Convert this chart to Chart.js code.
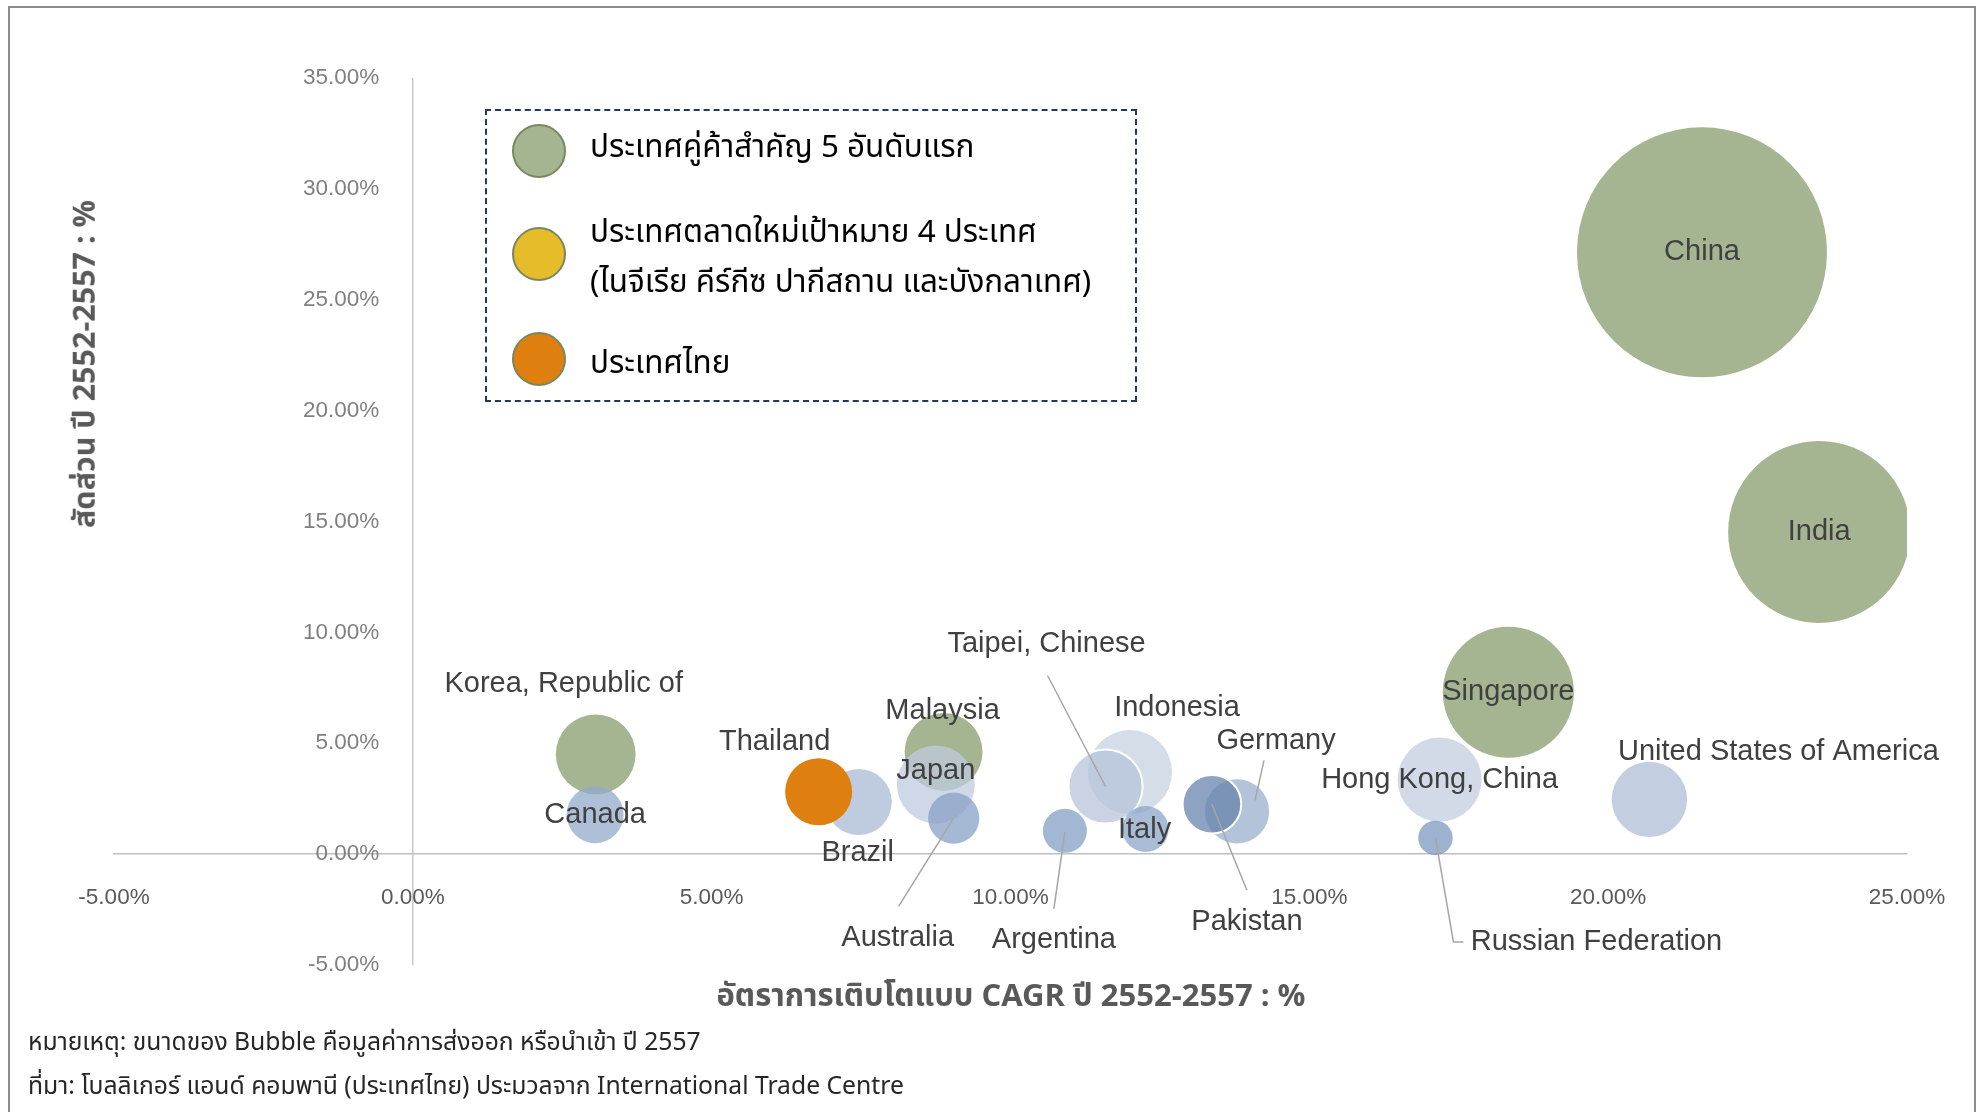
<!DOCTYPE html>
<html lang="th">
<head>
<meta charset="utf-8">
<title>Bubble chart</title>
<script src="https://cdn.jsdelivr.net/npm/chart.js@4.4.1/dist/chart.umd.min.js"></script>
<style>
  html, body { margin: 0; padding: 0; background: #fff; }
  #wrap {
    position: relative; width: 1980px; height: 1112px; overflow: hidden;
    font-family: "Noto Sans Thai", "Noto Sans Thai Looped", "Loma", "Garuda", "Liberation Sans", Arial, sans-serif;
  }
  #frame { position: absolute; left: 8px; top: 6px; width: 1968px; height: 1130px; border: 2px solid #8c8c8c; box-sizing: border-box; }
  #myChart { position: absolute; left: 0; top: 0; }
  #legendBox { position: absolute; left: 485px; top: 109px; width: 652px; height: 293px; border: 2px dashed #203864; box-sizing: border-box; }
  .lg-dot { position: absolute; left: 25px; width: 54px; height: 54px; margin-top: -27px; border-radius: 50%; border: 2px solid #77885f; box-sizing: border-box; }
  .lg-text { position: absolute; left: 103px; color: #000; font-size: 31.4px; line-height: 1; white-space: nowrap; transform: translateY(-50%); }
  .note { position: absolute; left: 28px; color: #262626; font-size: 24.7px; line-height: 1; white-space: nowrap; transform: translateY(-50%); }
  #xTitle { position: absolute; left: 1011px; top: 996px; transform: translate(-50%, -50%); font-size: 31px; font-weight: bold; color: #595959; white-space: nowrap; line-height: 1; }
  #yTitle { position: absolute; left: 86px; top: 364px; transform: translate(-50%, -50%) rotate(-90deg); font-size: 30.5px; font-weight: bold; color: #595959; white-space: nowrap; line-height: 1; }
</style>
</head>
<body>
<div id="wrap">
  <div id="frame"></div>
  <canvas id="myChart" width="1980" height="1112"></canvas>
  <div id="legendBox"></div>
  <div id="xTitle">อัตราการเติบโตแบบ CAGR ปี 2552-2557 : %</div>
  <div id="yTitle">สัดส่วน ปี 2552-2557 : %</div>
  <div class="note" style="top:1043px">หมายเหตุ: ขนาดของ Bubble คือมูลค่าการส่งออก หรือนำเข้า ปี 2557</div>
  <div class="note" style="top:1087px">ที่มา: โบลลิเกอร์ แอนด์ คอมพานี (ประเทศไทย) ประมวลจาก International Trade Centre</div>
</div>
<script>
// DATA (x = CAGR %, y = share %, size = bubble value, China = 100)

// top 5 trade partners
var top5Names = ['China', 'India', 'Singapore', 'Korea, Republic of', 'Malaysia'];
var top5Cagr  = [21.57, 23.53, 18.33, 3.06, 8.88];
var top5Share = [27.14, 14.53, 7.30, 4.50, 4.61];
var top5Size  = [100, 53.0, 27.5, 10.2, 9.7];

// new target markets (legend only)
var targetNames = [];
var targetCagr  = [];
var targetShare = [];
var targetSize  = [];

// Thailand
var thaiNames = ['Thailand'];
var thaiCagr  = [6.79];
var thaiShare = [2.81];
var thaiSize  = [7.2];

// other countries
var otherNames = ['Canada', 'Brazil', 'Japan', 'Australia', 'Argentina', 'Indonesia', 'Taipei, Chinese',
                  'Italy', 'Germany', 'Pakistan', 'Hong Kong, China', 'Russian Federation', 'United States of America'];
var otherCagr  = [3.05, 7.46, 8.75, 9.05, 10.91, 12.00, 11.59, 12.26, 13.79, 13.37, 17.18, 17.11, 20.69];
var otherShare = [1.78, 2.35, 3.14, 1.62, 1.05, 3.70, 3.05, 1.13, 1.93, 2.25, 3.36, 0.73, 2.47];
var otherSize  = [5.2, 7.0, 9.7, 4.2, 3.1, 11.3, 8.8, 3.4, 6.6, 5.5, 11.3, 1.9, 9.1];

var legendLabels = ['ประเทศคู่ค้าสำคัญ 5 อันดับแรก',
                    'ประเทศตลาดใหม่เป้าหมาย 4 ประเทศ\n(ไนจีเรีย คีร์กีซ ปากีสถาน และบังกลาเทศ)',
                    'ประเทศไทย'];

var xMin = -5, xMax = 25, yMin = -5, yMax = 35, tickStep = 5;

// STYLE
var greenCol = '#a5b592';
var yellowCol = '#e6bc2a';
var orangeCol = '#df7f10';
var otherCols = ['rgba(147,171,203,0.75)', 'rgba(170,187,214,0.75)', 'rgba(191,203,222,0.75)', 'rgba(136,162,198,0.75)',
                 'rgba(131,159,198,0.75)', 'rgba(199,210,224,0.75)', 'rgba(183,196,218,0.75)', 'rgba(140,166,200,0.75)',
                 'rgba(152,175,206,0.75)', 'rgba(104,132,172,0.75)', 'rgba(195,206,224,0.75)', 'rgba(123,152,191,0.75)',
                 'rgba(175,191,214,0.75)'];
var otherBorders = [0, 0, 0, 0, 0, 0, 2, 0, 0, 2, 0, 0, 0];

// label offsets from the bubble centre (px) and leader lines
var labelLayout = {
  'Korea, Republic of': {dx: -32, dy: -70},
  'Malaysia': {dx: -1, dy: -41},
  'Thailand': {dx: -44, dy: -50},
  'Brazil': {dx: -1, dy: 51},
  'Japan': {dx: 0, dy: -13},
  'Australia': {dx: -56, dy: 120, leader: [[-55, 88], [0, 0]]},
  'Argentina': {dx: -11, dy: 109, leader: [[-11, 78], [0, 1]]},
  'Indonesia': {dx: 47, dy: -64},
  'Taipei, Chinese': {dx: -59, dy: -142, leader: [[-58, -111], [0, 0]]},
  'Italy': {dx: -1, dy: 1},
  'Germany': {dx: 39, dy: -70, leader: [[27, -51], [18, -11]]},
  'Pakistan': {dx: 35, dy: 118, leader: [[35, 86], [0, 0]]},
  'Russian Federation': {dx: 161, dy: 104, leader: [[0, 0], [18, 104], [28, 104]]},
  'United States of America': {dx: 129, dy: -47}
};

var makePoints = function (cagr, share, size) {
  var pts = [];
  for (var i = 0; i < cagr.length; i += 1) {
    pts.push({x: cagr[i], y: share[i], r: 12.5 * Math.sqrt(size[i])});
  }
  return pts;
};

var labelPlugin = {
  id: 'countryLabels',
  afterDatasetsDraw: function (chart) {
    var c = chart.ctx;
    var items = [];
    chart.data.datasets.forEach(function (ds, di) {
      var meta = chart.getDatasetMeta(di);
      meta.data.forEach(function (el, i) {
        items.push({name: ds.names[i], x: el.x, y: el.y});
      });
    });
    c.save();
    c.strokeStyle = '#a6a6a6';
    c.lineWidth = 1.5;
    items.forEach(function (it) {
      var lay = labelLayout[it.name];
      if (lay && lay.leader) {
        c.beginPath();
        lay.leader.forEach(function (p, k) {
          if (k === 0) c.moveTo(it.x + p[0], it.y + p[1]);
          else c.lineTo(it.x + p[0], it.y + p[1]);
        });
        c.stroke();
      }
    });
    c.font = '29px "Liberation Sans", Arial, sans-serif';
    c.fillStyle = '#404040';
    c.textAlign = 'center';
    c.textBaseline = 'middle';
    items.forEach(function (it) {
      var lay = labelLayout[it.name] || {dx: 0, dy: 0};
      c.fillText(it.name, it.x + lay.dx, it.y + lay.dy);
    });
    c.restore();
  }
};

Chart.defaults.font.family = '"Liberation Sans", Arial, sans-serif';

var pct = function (v) { return v.toFixed(2) + '%'; };

var myChart = new Chart(document.getElementById('myChart'), {
  type: 'bubble',
  data: {
    datasets: [
      {label: legendLabels[2], names: thaiNames, data: makePoints(thaiCagr, thaiShare, thaiSize),
       backgroundColor: orangeCol, borderWidth: 0, order: 1},
      {label: 'others', names: otherNames, data: makePoints(otherCagr, otherShare, otherSize),
       backgroundColor: otherCols, borderColor: '#ffffff', borderWidth: otherBorders, order: 2},
      {label: legendLabels[0], names: top5Names, data: makePoints(top5Cagr, top5Share, top5Size),
       backgroundColor: greenCol, borderWidth: 0, order: 3},
      {label: legendLabels[1], names: targetNames, data: makePoints(targetCagr, targetShare, targetSize),
       backgroundColor: yellowCol, borderWidth: 0, order: 4}
    ]
  },
  options: {
    responsive: false,
    animation: false,
    layout: {autoPadding: false, padding: {left: 114, right: 73, top: 78, bottom: 147}},
    plugins: {legend: {display: false}, tooltip: {enabled: false}},
    scales: {
      x: {
        type: 'linear', min: xMin, max: xMax, position: {y: 0},
        afterFit: function (s) { s.height = 0; },
        grid: {
          drawTicks: false, lineWidth: 1.5,
          color: function (c) { return c.tick && c.tick.value === 0 ? '#c8c8c8' : 'rgba(0,0,0,0)'; }
        },
        border: {display: true, color: '#bfbfbf', width: 1.5},
        ticks: {stepSize: tickStep, padding: 30, autoSkip: false, maxRotation: 0, color: '#595959',
                font: {size: 22.5}, callback: pct}
      },
      y: {
        type: 'linear', min: yMin, max: yMax, position: 'left',
        grid: {display: false},
        border: {display: false},
        // labels sit next to the x = 0 line, so the axis takes no room
        afterFit: function (s) { s.width = 0; s.paddingTop = 0; s.paddingBottom = 0; },
        ticks: {stepSize: tickStep, mirror: true, crossAlign: 'far', padding: 189, color: '#808080',
                font: {size: 22.5}, callback: pct}
      }
    }
  },
  plugins: [labelPlugin]
});

// legend in the dashed box
var legendBox = document.getElementById('legendBox');
var legendRows = [
  {col: greenCol, dotY: 40, lines: [[legendLabels[0], 37]]},
  {col: yellowCol, dotY: 143, lines: [[legendLabels[1].split('\n')[0], 122], [legendLabels[1].split('\n')[1], 172]]},
  {col: orangeCol, dotY: 248, lines: [[legendLabels[2], 253]]}
];
legendRows.forEach(function (row) {
  var dot = document.createElement('div');
  dot.className = 'lg-dot';
  dot.style.top = row.dotY + 'px';
  dot.style.background = row.col;
  legendBox.appendChild(dot);
  row.lines.forEach(function (ln) {
    var t = document.createElement('div');
    t.className = 'lg-text';
    t.style.top = ln[1] + 'px';
    t.textContent = ln[0];
    legendBox.appendChild(t);
  });
});
</script>
</body>
</html>
